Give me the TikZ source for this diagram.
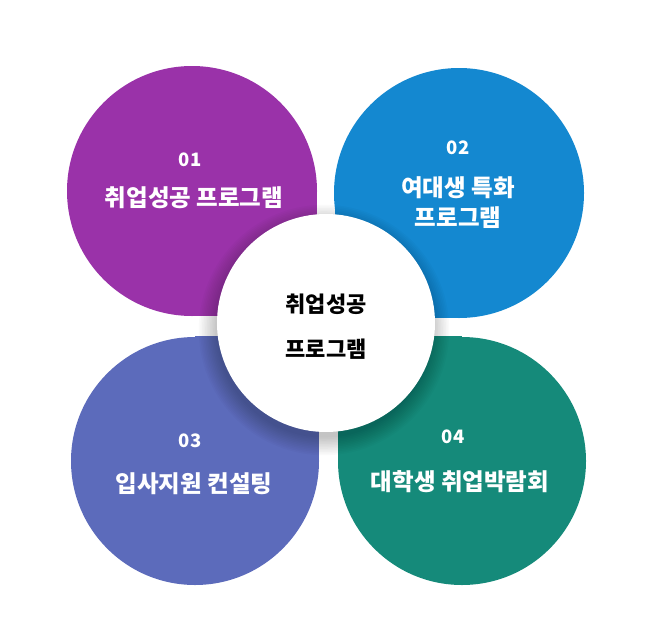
\documentclass[tikz,border=0pt]{standalone}
\usepackage{fontspec}
\setmainfont{Noto Sans CJK KR}
\definecolor{cpurple}{HTML}{9A32A9}
\definecolor{cblue}{HTML}{1488D0}
\definecolor{cindigo}{HTML}{5C6BBB}
\definecolor{cgreen}{HTML}{158A7A}
\tikzset{
  num/.style={text=white,font=\bfseries\fontsize{18.5}{22}\selectfont,inner sep=0pt},
  ttl/.style={text=white,font=\bfseries\fontsize{23.5}{30}\selectfont,inner sep=0pt,align=center},
  ctr/.style={text=black,font=\bfseries\fontsize{22}{45}\selectfont,inner sep=0pt,align=center},
}
\begin{document}
\begin{tikzpicture}[x=1pt,y=-1pt]
\useasboundingbox[fill=white] (0,0) rectangle (672,616);
% petals
\fill[cpurple] (192,191) circle (125);
\fill[cpurple] (192,191) rectangle (317,316);
\fill[cblue] (459,193) circle (125);
\fill[cblue] (459,193) rectangle (335,318);
\fill[cindigo] (195,461) circle (124);
\fill[cindigo] (195,461) rectangle (319,336);
\fill[cgreen] (462,461) circle (124);
\fill[cgreen] (462,461) rectangle (338,336);
% shadow of centre circle
\foreach \i in {1,...,12} {
  \fill[black,opacity=0.018] (324,330) circle ({106+\i*1.6});
}
\node[circle,fill=white,minimum size=218pt,inner sep=0pt] (c) at (326,323) {};
% texts
\node[num] (n1) at (190,160) {01};
\node[ttl] (t1) at (194,198) {취업성공 프로그램};
\node[num] (n2) at (458,148) {02};
\node[ttl] (t2) at (458,203) {여대생 특화\\프로그램};
\node[num] (n3) at (190,441) {03};
\node[ttl] (t3) at (194,484) {입사지원 컨설팅};
\node[num] (n4) at (453,437) {04};
\node[ttl] (t4) at (460,482) {대학생 취업박람회};
\node[ctr] (ct) at (326,327) {취업성공\\프로그램};
\end{tikzpicture}
\end{document}
